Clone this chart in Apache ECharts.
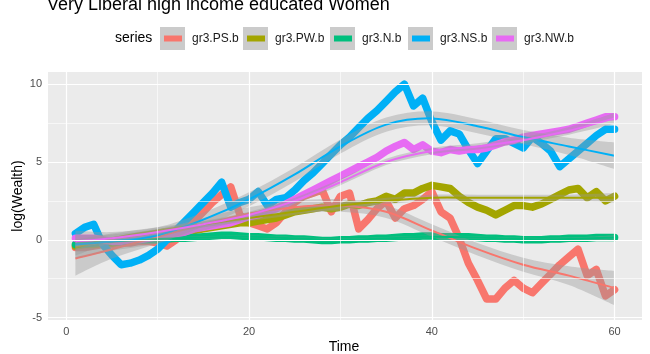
<!DOCTYPE html>
<html>
<head>
<meta charset="utf-8">
<script src="https://cdn.jsdelivr.net/npm/echarts@6/dist/echarts.min.js"></script>
<style>
  html, body { margin: 0; padding: 0; background: #ffffff; }
  #chart { width: 650px; height: 354px; }
</style>
</head>
<body>
<div id="chart"></div>
<script>
// Wealth paths over time, one per group
const seriesNames  = ['gr3.PS.b', 'gr3.PW.b', 'gr3.N.b', 'gr3.NS.b', 'gr3.NW.b'];
const seriesColors = ['#F8766D', '#A3A500', '#00BF7D', '#00B0F6', '#E76BF3'];

const time = [1,2,3,4,5,6,7,8,9,10,11,12,13,14,15,16,17,18,19,20,
              21,22,23,24,25,26,27,28,29,30,31,32,33,34,35,36,37,38,39,40,
              41,42,43,44,45,46,47,48,49,50,51,52,53,54,55,56,57,58,59,60];

const psB = [-0.5,-0.5,-0.4,-0.3,-0.3,-0.2,-0.2,-0.1,-0.1,-0.2,
             -0.4,0.0,0.6,1.2,1.8,2.4,2.9,3.4,1.6,1.1,
             0.9,0.7,1.1,1.8,2.4,2.8,3.0,3.2,1.8,2.8,
             3.0,0.7,1.3,2.0,2.5,1.4,2.0,2.2,2.6,3.1,
             1.8,1.4,0.1,-1.5,-2.6,-3.8,-3.8,-3.1,-2.6,-3.1,
             -3.4,-2.8,-2.2,-1.6,-1.1,-0.6,-2.3,-1.9,-3.6,-3.2];

const pwB = [-0.4,-0.3,-0.3,-0.2,-0.2,-0.1,0.0,0.0,0.1,0.2,
             0.3,0.4,0.5,0.6,0.7,0.8,0.9,1.0,1.1,1.1,
             1.2,1.3,1.4,1.6,1.8,1.9,2.0,2.1,2.0,2.1,
             2.3,2.2,2.4,2.5,2.8,2.6,3.0,3.0,3.3,3.5,
             3.4,3.3,2.8,2.4,2.1,1.9,1.6,1.9,2.2,2.2,
             2.1,2.3,2.6,2.9,3.2,3.3,2.7,3.1,2.5,2.8];

const nB  = [-0.3,-0.25,-0.2,-0.15,-0.1,-0.1,-0.05,0.0,0.0,0.0,
             0.05,0.1,0.1,0.15,0.2,0.25,0.3,0.3,0.25,0.2,
             0.2,0.15,0.1,0.1,0.05,0.05,0.0,-0.05,-0.05,0.0,
             0.0,0.05,0.05,0.1,0.1,0.15,0.2,0.2,0.25,0.25,
             0.2,0.2,0.2,0.2,0.15,0.1,0.1,0.05,0.05,0.0,
             0.0,0.0,0.05,0.05,0.1,0.1,0.1,0.15,0.15,0.15];

const nsB = [0.4,0.8,1.0,-0.3,-1.0,-1.6,-1.5,-1.3,-1.0,-0.6,
             0.0,0.6,1.2,1.8,2.4,3.0,3.7,2.1,2.4,2.6,
             3.1,2.2,2.6,2.7,3.2,3.8,4.3,4.9,5.5,6.1,
             6.6,7.2,7.8,8.3,8.9,9.5,10.0,8.6,9.1,7.6,
             6.4,7.0,6.8,5.8,4.9,5.7,6.5,6.5,6.2,5.9,
             6.6,6.2,5.7,4.7,5.2,5.7,6.2,6.7,7.1,7.1];

const nwB = [0.1,0.1,0.1,0.0,-0.1,-0.1,0.0,0.0,0.1,0.2,
             0.3,0.4,0.5,0.7,0.8,0.9,1.0,1.1,1.3,1.5,
             1.6,1.8,2.0,2.3,2.6,2.9,3.2,3.5,3.8,4.1,
             4.4,4.7,5.0,5.3,5.7,6.0,6.25,5.8,6.1,5.7,
             5.6,5.8,5.7,5.8,5.8,5.9,6.1,6.3,6.4,6.6,
             6.7,6.8,6.9,7.0,7.1,7.3,7.5,7.7,7.9,7.9];

// Smoothed trend with its confidence band, read at these times
const fitTime = [1,5,10,15,20,25,30,35,40,45,50,55,60];

const psFit = [-1.2,-0.6,0.2,1.0,1.7,2.1,2.2,1.8,0.6,-0.6,-1.6,-2.3,-3.1];
const psLo  = [-2.3,-1.2,-0.25,0.6,1.3,1.7,1.8,1.4,0.2,-1.0,-2.05,-2.9,-4.2];
const psHi  = [-0.1,0.0,0.65,1.4,2.1,2.5,2.6,2.2,1.0,-0.2,-1.15,-1.7,-2.0];

const pwFit = [-0.5,0.1,0.6,1.0,1.4,1.8,2.2,2.5,2.7,2.7,2.7,2.7,2.7];
const pwLo  = [-1.0,-0.2,0.4,0.8,1.2,1.6,2.0,2.3,2.5,2.5,2.5,2.5,2.4];
const pwHi  = [0.0,0.4,0.8,1.2,1.6,2.0,2.4,2.7,2.9,2.9,2.9,2.9,3.0];

const nFit  = [-0.25,-0.1,0.05,0.15,0.2,0.1,0.0,0.1,0.2,0.15,0.05,0.05,0.15];
const nLo   = [-0.4,-0.2,-0.03,0.07,0.12,0.02,-0.08,0.02,0.12,0.07,-0.03,-0.05,0.0];
const nHi   = [-0.1,0.0,0.13,0.23,0.28,0.18,0.08,0.18,0.28,0.23,0.13,0.15,0.3];

const nsFit = [-0.3,-0.1,0.3,1.3,2.6,4.2,6.0,7.4,7.8,7.3,6.6,6.0,5.4];
const nsLo  = [-1.2,-0.7,-0.2,0.85,2.15,3.75,5.55,6.95,7.35,6.85,6.15,5.45,4.55];
const nsHi  = [0.6,0.5,0.8,1.75,3.05,4.65,6.45,7.85,8.25,7.75,7.05,6.55,6.25];

const nwFit = [-0.1,0.1,0.5,1.0,1.6,2.5,3.7,5.0,5.7,6.0,6.4,7.0,7.8];
const nwLo  = [-0.5,-0.15,0.3,0.8,1.4,2.3,3.5,4.8,5.5,5.8,6.2,6.75,7.45];
const nwHi  = [0.3,0.35,0.7,1.2,1.8,2.7,3.9,5.2,5.9,6.2,6.6,7.25,8.15];

// Axis ticks and grid lines
const xTicks = [0, 20, 40, 60];
const xMinor = [10, 30, 50];
const yTicks = [-5, 0, 5, 10];
const yMinor = [-2.5, 2.5, 7.5];

const rawSeries = [psB, pwB, nB, nsB, nwB];
const fits  = [psFit, pwFit, nFit, nsFit, nwFit];
const lows  = [psLo, pwLo, nLo, nsLo, nwLo];
const highs = [psHi, pwHi, nHi, nsHi, nwHi];

const pair = (xs, ys) => xs.map((x, i) => [x, ys[i]]);

// Catmull-Rom curve through pixel points, as SVG path commands
function splinePath(pts, moveFirst) {
  let d = (moveFirst ? 'M' : 'L') + pts[0][0] + ' ' + pts[0][1];
  for (let i = 0; i < pts.length - 1; i++) {
    const p0 = pts[Math.max(i - 1, 0)], p1 = pts[i], p2 = pts[i + 1], p3 = pts[Math.min(i + 2, pts.length - 1)];
    const c1x = p1[0] + (p2[0] - p0[0]) / 6, c1y = p1[1] + (p2[1] - p0[1]) / 6;
    const c2x = p2[0] - (p3[0] - p1[0]) / 6, c2y = p2[1] - (p3[1] - p1[1]) / 6;
    d += ' C' + c1x + ' ' + c1y + ' ' + c2x + ' ' + c2y + ' ' + p2[0] + ' ' + p2[1];
  }
  return d;
}

const series = [];

// background grid lines, drawn through the axes' own scales
series.push({
  type: 'line', data: [], silent: true, z: 1,
  markLine: {
    silent: true, symbol: 'none', animation: false,
    label: { show: false },
    data: [
      ...xMinor.map(v => ({ xAxis: v, lineStyle: { color: '#ffffff', width: 0.6, type: 'solid' } })),
      ...yMinor.map(v => ({ yAxis: v, lineStyle: { color: '#ffffff', width: 0.6, type: 'solid' } })),
      ...xTicks.map(v => ({ xAxis: v, lineStyle: { color: '#ffffff', width: 1.2, type: 'solid' } })),
      ...yTicks.map(v => ({ yAxis: v, lineStyle: { color: '#ffffff', width: 1.2, type: 'solid' } }))
    ]
  }
});

// thick raw paths
rawSeries.forEach((ys, i) => {
  series.push({
    name: seriesNames[i], type: 'line', z: 2,
    data: pair(time, ys),
    symbol: 'none', silent: true,
    lineStyle: { color: seriesColors[i], width: 7.5, join: 'round', cap: 'round' }
  });
});

// smoothed trends: confidence band, then fitted line, per group
fits.forEach((fy, i) => {
  const lo = lows[i], hi = highs[i];
  series.push({
    type: 'custom', z: 3, silent: true,
    data: fitTime.map((t, k) => [t, lo[k], hi[k], fy[k]]),
    encode: { x: 0, y: [1, 2, 3] },
    renderItem: function (params, api) {
      if (params.dataIndexInside !== 0) return { type: 'group', children: [] };
      const upper = fitTime.map((t, k) => api.coord([t, hi[k]]));
      const lower = fitTime.map((t, k) => api.coord([t, lo[k]])).reverse();
      const mid   = fitTime.map((t, k) => api.coord([t, fy[k]]));
      return {
        type: 'group',
        children: [
          { type: 'path', shape: { pathData: splinePath(upper, true) + ' ' + splinePath(lower, false) + ' Z' },
            style: { fill: 'rgba(153,153,153,0.4)', stroke: null } },
          { type: 'path', shape: { pathData: splinePath(mid, true) },
            style: { fill: null, stroke: seriesColors[i], lineWidth: 2 } }
        ]
      };
    }
  });
});

// legend drawn as ggplot-style keys
const legendKeyX = [160, 243, 330, 408, 492];
const legendGraphics = [
  { type: 'text', left: 115, top: 31,
    style: { text: 'series', font: '14px "Liberation Sans", Arial, sans-serif', fill: '#000000' } }
];
seriesNames.forEach((n, i) => {
  const x = legendKeyX[i];
  legendGraphics.push({ type: 'rect', shape: { x: x, y: 27, width: 25, height: 23 }, style: { fill: '#CBCBCB' } });
  legendGraphics.push({ type: 'rect', shape: { x: x + 4, y: 35.5, width: 18, height: 6 }, style: { fill: seriesColors[i] } });
  legendGraphics.push({ type: 'text', x: x + 32, y: 38.5,
    style: { text: n, font: '12px "Liberation Sans", Arial, sans-serif', fill: '#1A1A1A', verticalAlign: 'middle' } });
});

const chart = echarts.init(document.getElementById('chart'), null, { renderer: 'canvas' });
chart.setOption({
  animation: false,
  backgroundColor: '#ffffff',
  graphic: [
    { type: 'text', x: 47, y: 14,
      style: { text: 'Very Liberal high income educated Women', font: '18px "Liberation Sans", Arial, sans-serif', fill: '#000000', verticalAlign: 'bottom' } },
    ...legendGraphics,
    { type: 'text', x: 344, y: 347,
      style: { text: 'Time', font: '14px "Liberation Sans", Arial, sans-serif', fill: '#000000', align: 'center', verticalAlign: 'middle' } },
    { type: 'text', x: 18, y: 196, rotation: Math.PI / 2,
      style: { text: 'log(Wealth)', font: '14px "Liberation Sans", Arial, sans-serif', fill: '#000000', align: 'center', verticalAlign: 'middle' } }
  ],
  grid: { left: 48, right: 8, top: 72, bottom: 34, show: true, backgroundColor: '#EBEBEB', borderWidth: 0, containLabel: false },
  xAxis: {
    type: 'value', min: -2, max: 63,
    axisLine: { show: false },
    splitLine: { show: false },
    axisTick: { show: true, customValues: xTicks, length: 3, lineStyle: { color: '#333333', width: 1 } },
    axisLabel: { customValues: xTicks, color: '#4D4D4D', fontSize: 11, margin: 6, fontFamily: '"Liberation Sans", Arial, sans-serif' }
  },
  yAxis: {
    type: 'value', min: -5.15, max: 10.78,
    axisLine: { show: false },
    splitLine: { show: false },
    axisTick: { show: true, customValues: yTicks, length: 3, lineStyle: { color: '#333333', width: 1 } },
    axisLabel: { customValues: yTicks, color: '#4D4D4D', fontSize: 11, margin: 6, fontFamily: '"Liberation Sans", Arial, sans-serif' }
  },
  series: series
});
</script>
</body>
</html>
